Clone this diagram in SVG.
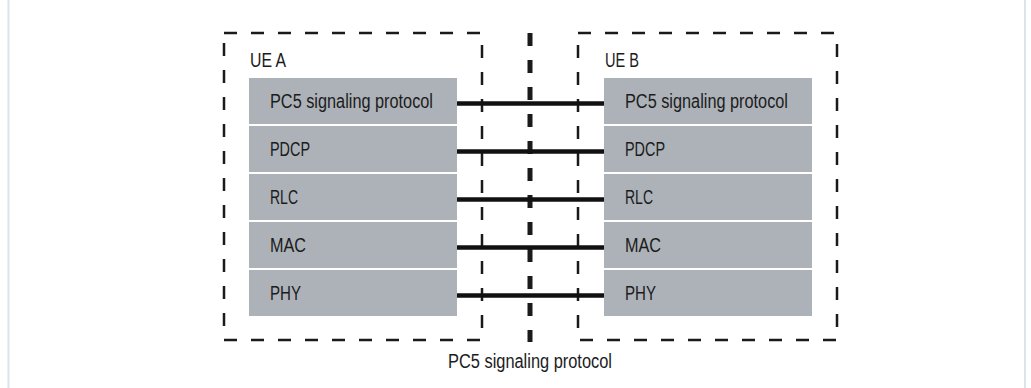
<svg xmlns="http://www.w3.org/2000/svg" width="1031" height="388" viewBox="0 0 1031 388">
<style>
.frame{stroke:#dde3e8;stroke-width:2;fill:none}
.ue{fill:none;stroke:#1a1a1a;stroke-width:2.5;stroke-dasharray:13 14}
.mid{fill:none;stroke:#1a1a1a;stroke-width:5;stroke-dasharray:13 14}
.layer{fill:#acb2b8}
.t{font-family:"Liberation Sans",Arial,sans-serif;font-size:19.5px;fill:#1c1c1c}
.link{stroke:#111;stroke-width:4.5;fill:none}
</style>
<rect width="1031" height="388" fill="#fff"/>
<line class="frame" x1="8.5" y1="0" x2="8.5" y2="388"/>
<line class="frame" x1="1025" y1="0" x2="1025" y2="388"/>
<g id="ueA">
<rect class="ue" x="224" y="33" width="258" height="307"/>
<text class="t" x="250" y="67" textLength="36" lengthAdjust="spacingAndGlyphs">UE A</text>
</g>
<g id="ueB">
<rect class="ue" x="578" y="33" width="259" height="307"/>
<text class="t" x="605" y="67" textLength="34" lengthAdjust="spacingAndGlyphs">UE B</text>
</g>
<g id="divider">
<line class="mid" x1="530" y1="33" x2="530" y2="342"/>
</g>
<g id="connectors">
<line class="link" x1="457" y1="103.5" x2="604" y2="103.5"/>
<line class="link" x1="457" y1="151.5" x2="604" y2="151.5"/>
<line class="link" x1="457" y1="199.5" x2="604" y2="199.5"/>
<line class="link" x1="457" y1="247.5" x2="604" y2="247.5"/>
<line class="link" x1="457" y1="295.5" x2="604" y2="295.5"/>
</g>
<g id="a-pc5"><rect class="layer" x="249" y="78" width="208" height="46"/><text class="t" x="270" y="108" textLength="163" lengthAdjust="spacingAndGlyphs">PC5 signaling protocol</text></g>
<g id="a-pdcp"><rect class="layer" x="249" y="126" width="208" height="46"/><text class="t" x="270" y="156" textLength="40" lengthAdjust="spacingAndGlyphs">PDCP</text></g>
<g id="a-rlc"><rect class="layer" x="249" y="174" width="208" height="46"/><text class="t" x="270" y="204" textLength="28" lengthAdjust="spacingAndGlyphs">RLC</text></g>
<g id="a-mac"><rect class="layer" x="249" y="222" width="208" height="46"/><text class="t" x="270" y="252" textLength="36" lengthAdjust="spacingAndGlyphs">MAC</text></g>
<g id="a-phy"><rect class="layer" x="249" y="270" width="208" height="46"/><text class="t" x="270" y="300" textLength="31" lengthAdjust="spacingAndGlyphs">PHY</text></g>
<g id="b-pc5"><rect class="layer" x="604" y="78" width="208" height="46"/><text class="t" x="625" y="108" textLength="163" lengthAdjust="spacingAndGlyphs">PC5 signaling protocol</text></g>
<g id="b-pdcp"><rect class="layer" x="604" y="126" width="208" height="46"/><text class="t" x="625" y="156" textLength="40" lengthAdjust="spacingAndGlyphs">PDCP</text></g>
<g id="b-rlc"><rect class="layer" x="604" y="174" width="208" height="46"/><text class="t" x="625" y="204" textLength="28" lengthAdjust="spacingAndGlyphs">RLC</text></g>
<g id="b-mac"><rect class="layer" x="604" y="222" width="208" height="46"/><text class="t" x="625" y="252" textLength="36" lengthAdjust="spacingAndGlyphs">MAC</text></g>
<g id="b-phy"><rect class="layer" x="604" y="270" width="208" height="46"/><text class="t" x="625" y="300" textLength="31" lengthAdjust="spacingAndGlyphs">PHY</text></g>
<g id="caption">
<text class="t" x="448" y="368" textLength="164" lengthAdjust="spacingAndGlyphs">PC5 signaling protocol</text>
</g>
</svg>
